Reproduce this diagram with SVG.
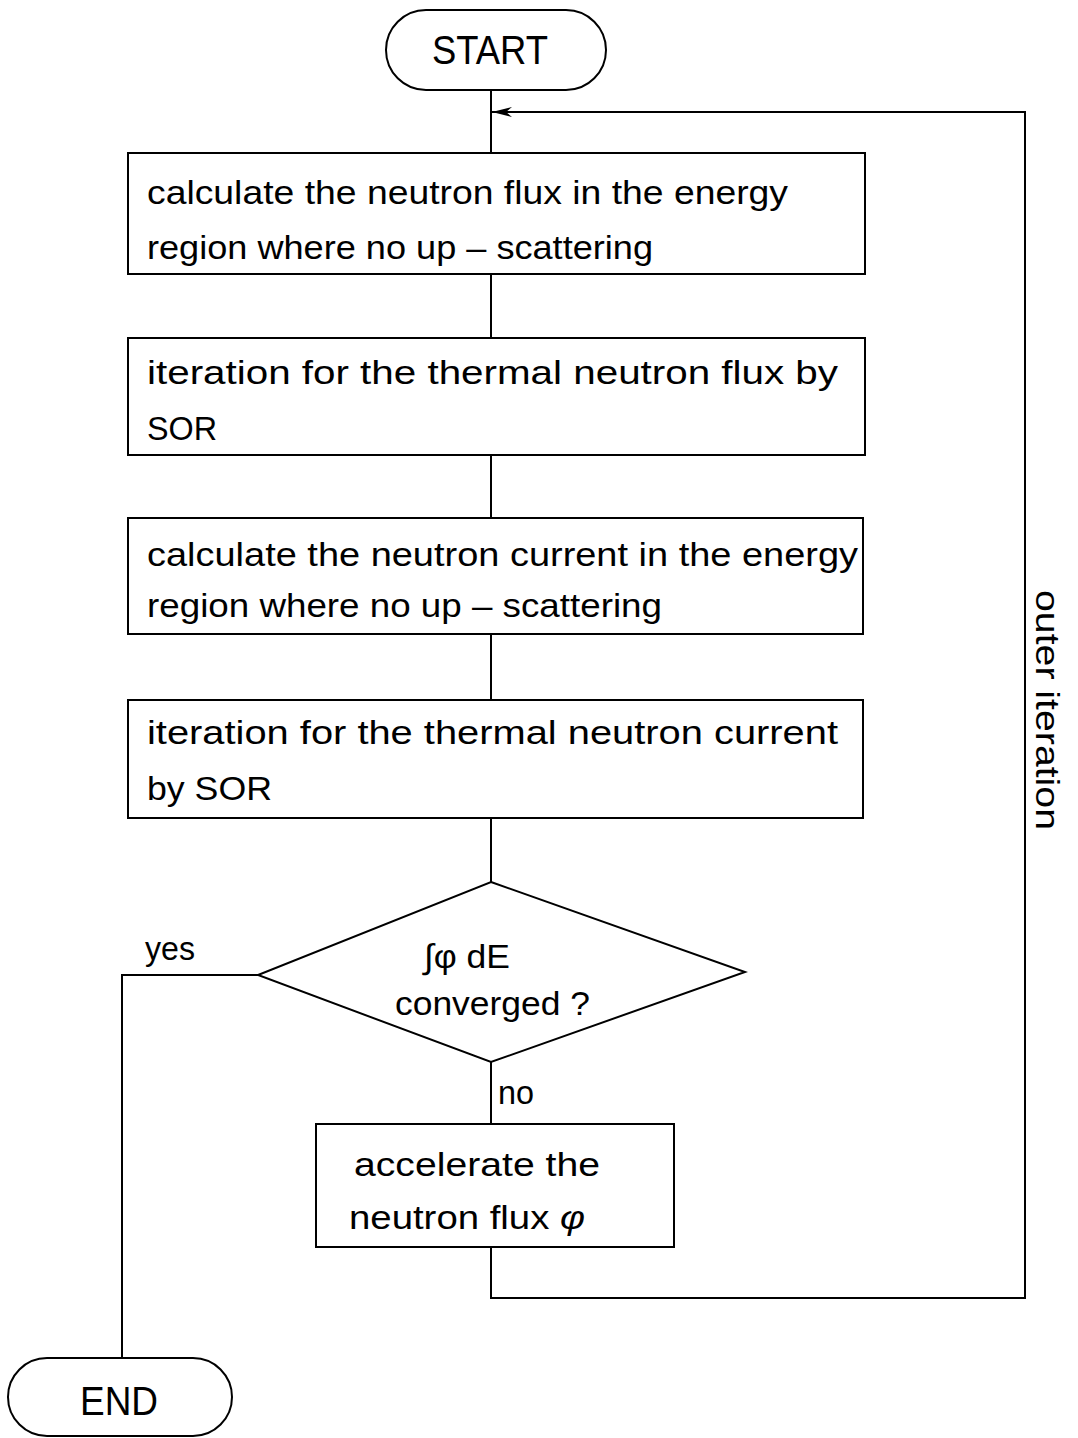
<svg xmlns="http://www.w3.org/2000/svg" width="1078" height="1438" viewBox="0 0 1078 1438">
<defs>
<marker id="arr" viewBox="0 0 20 12" refX="20" refY="6" markerWidth="20" markerHeight="12" markerUnits="userSpaceOnUse" orient="auto">
<path d="M20,6 L0,1 L6,6 L0,11 Z" fill="#000"/>
</marker>
</defs>
<style>
rect, polygon { fill: #fff; stroke: #000; stroke-width: 2; }
.c { fill: none; stroke: #000; stroke-width: 2; }
text { font-family: "Liberation Sans", "DejaVu Sans", sans-serif; font-size: 34px; fill: #000; }
.big { font-size: 40px; }
</style>
<g id="connectors">
<line class="c" x1="491" y1="90" x2="491" y2="153"/>
<polyline class="c" points="491,1247 491,1298 1025,1298 1025,112 492,112" marker-end="url(#arr)"/>
<line class="c" x1="491" y1="274" x2="491" y2="338"/>
<line class="c" x1="491" y1="455" x2="491" y2="518"/>
<line class="c" x1="491" y1="634" x2="491" y2="700"/>
<line class="c" x1="491" y1="818" x2="491" y2="882"/>
<line class="c" x1="491" y1="1062" x2="491" y2="1124"/>
<polyline class="c" points="258,975 122,975 122,1358"/>
<text x="145" y="960" textLength="50" lengthAdjust="spacingAndGlyphs">yes</text>
<text x="498" y="1104" textLength="36" lengthAdjust="spacingAndGlyphs">no</text>
<text transform="rotate(90 1036 710)" x="1036" y="710" text-anchor="middle" textLength="240" lengthAdjust="spacingAndGlyphs">outer  iteration</text>
</g>
<g id="start">
<rect x="386" y="10" width="220" height="80" rx="40" ry="40"/>
<text class="big" x="432" y="64" textLength="116" lengthAdjust="spacingAndGlyphs">START</text>
</g>
<g id="box1">
<rect x="128" y="153" width="737" height="121"/>
<text x="147" y="204" textLength="641" lengthAdjust="spacingAndGlyphs">calculate  the  neutron flux in the  energy</text>
<text x="147" y="259" textLength="506" lengthAdjust="spacingAndGlyphs">region  where  no  up – scattering</text>
</g>
<g id="box2">
<rect x="128" y="338" width="737" height="117"/>
<text x="147" y="384" textLength="691" lengthAdjust="spacingAndGlyphs">iteration  for  the  thermal  neutron  flux  by</text>
<text x="147" y="440" textLength="70" lengthAdjust="spacingAndGlyphs">SOR</text>
</g>
<g id="box3">
<rect x="128" y="518" width="735" height="116"/>
<text x="147" y="566" textLength="711" lengthAdjust="spacingAndGlyphs">calculate  the  neutron  current  in  the  energy</text>
<text x="147" y="617" textLength="515" lengthAdjust="spacingAndGlyphs">region  where  no  up – scattering</text>
</g>
<g id="box4">
<rect x="128" y="700" width="735" height="118"/>
<text x="147" y="744" textLength="691" lengthAdjust="spacingAndGlyphs">iteration  for  the  thermal  neutron  current</text>
<text x="147" y="800" textLength="125" lengthAdjust="spacingAndGlyphs">by  SOR</text>
</g>
<g id="decision">
<polygon points="491,882 745,972 491,1062 258,975"/>
<text x="424" y="968" textLength="86" lengthAdjust="spacingAndGlyphs">∫φ dE</text>
<text x="395" y="1015" textLength="195" lengthAdjust="spacingAndGlyphs">converged  ?</text>
</g>
<g id="box5">
<rect x="316" y="1124" width="358" height="123"/>
<text x="354" y="1176" textLength="246" lengthAdjust="spacingAndGlyphs">accelerate  the</text>
<text x="349" y="1229" textLength="236" lengthAdjust="spacingAndGlyphs">neutron  flux  <tspan font-style="italic">φ</tspan></text>
</g>
<g id="end">
<rect x="8" y="1358" width="224" height="78" rx="39" ry="39"/>
<text class="big" x="80" y="1415" textLength="78" lengthAdjust="spacingAndGlyphs">END</text>
</g>
</svg>
